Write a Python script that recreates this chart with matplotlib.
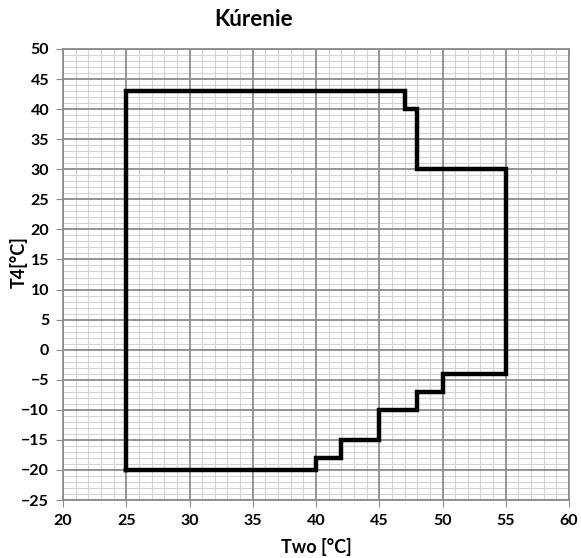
import numpy as np
import matplotlib.pyplot as plt

# operating envelope (heating)
two = [25, 25, 47, 47, 48, 48, 55, 55, 50, 50, 48, 48, 45, 45, 42, 42, 40, 40, 25]
t4 = [-20, 43, 43, 40, 40, 30, 30, -4, -4, -7, -7, -10, -10, -15, -15, -18, -18, -20, -20]

xticks = np.arange(20, 61, 5)
yticks = np.arange(-25, 51, 5)

plt.rcParams['font.family'] = ['Lato', 'DejaVu Sans']

fig = plt.figure(figsize=(5.81, 5.58), dpi=100)
ax = fig.add_axes([63/581, 1 - 500/558, (569 - 63)/581, (500 - 49)/558])

ax.plot(two, t4, color='black', lw=3.2, solid_joinstyle='miter', zorder=3)

ax.set_xlim(20, 60)
ax.set_ylim(-25, 50)
ax.set_xticks(xticks)
ax.set_yticks(yticks)
# minor grid first, major lines on top of it
ax.set_xticks(np.arange(20, 61, 1), minor=True)
ax.set_yticks(np.arange(-25, 51, 1), minor=True)
ax.grid(which='minor', color='#d4d4d4', lw=0.8)
ax.set_axisbelow(True)
for v in xticks:
    ax.axvline(v, color='#8c8c8c', lw=1.3, zorder=1)
for v in yticks:
    ax.axhline(v, color='#8c8c8c', lw=1.3, zorder=1)

for s in ax.spines.values():
    s.set_color('#8c8c8c')
    s.set_linewidth(1.3)
ax.tick_params(which='major', length=5, color='#8c8c8c', labelsize=11.5, pad=5)
ax.tick_params(which='minor', length=0)
for lab in ax.get_xticklabels() + ax.get_yticklabels():
    lab.set_fontweight('bold')

fig.text(316/581, 1 - 547/558, 'Two [°C]', ha='center', va='center', fontsize=13, fontweight='bold')
fig.text(19/581, 1 - 262/558, 'T4[°C]', ha='center', va='center', rotation=90, fontsize=13, fontweight='bold')
fig.text(254/581, 1 - 20/558, 'Kúrenie', ha='center', va='center', fontsize=16, fontweight='bold')

fig.savefig('out.png', dpi=100)
